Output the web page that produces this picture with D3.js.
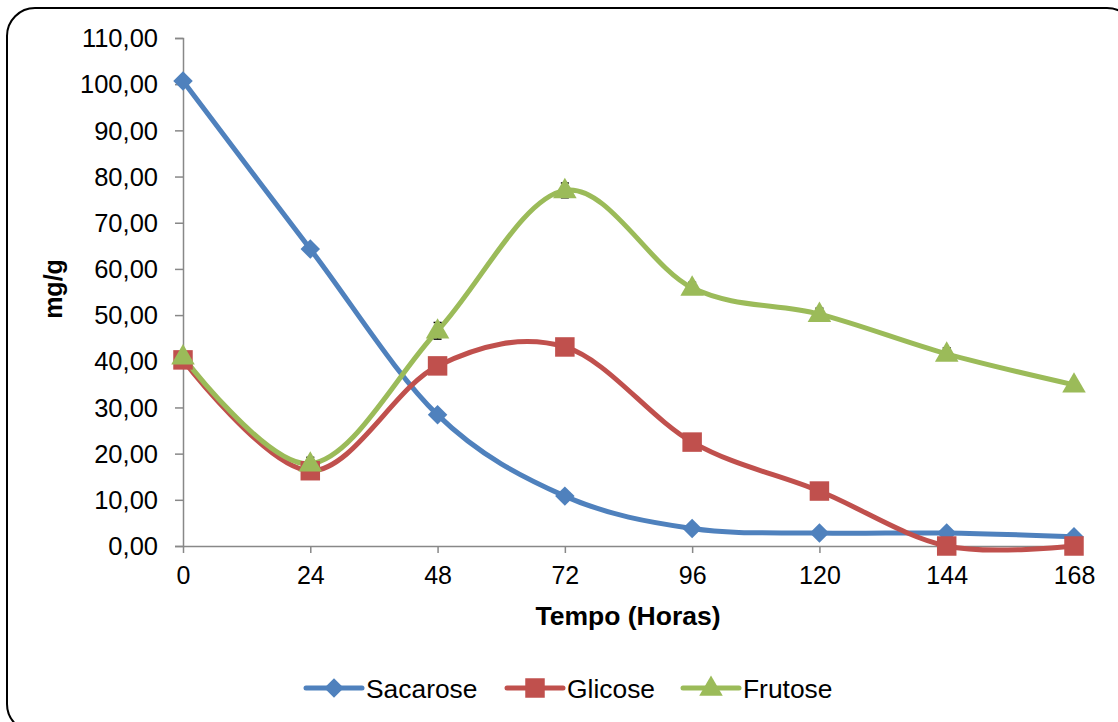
<!DOCTYPE html>
<html>
<head>
<meta charset="utf-8">
<script src="https://cdn.jsdelivr.net/npm/d3@7"></script>
<style>
  html, body { margin: 0; padding: 0; background: #fff; overflow: hidden; }
  svg { display: block; font-family: "Liberation Sans", Arial, sans-serif; }
</style>
</head>
<body>
<div id="chart"></div>
<script>
/* ── data ─────────────────────────────────────────────────── */
const hours    = [0, 24, 48, 72, 96, 120, 144, 168];
const sacarose = [100.7, 64.3, 28.4, 10.8, 3.8, 2.8, 2.8, 2.0];
const glicose  = [40.3, 16.3, 39.0, 43.1, 22.5, 11.9, 0.0, 0.0];
const frutose  = [41.0, 17.8, 46.6, 77.0, 55.9, 50.2, 41.6, 34.9];
const errSacarose = [0.4, 0.6, 0.8, 0.4, 0.3, 0.2, 0.2, 0.2];
const errGlicose  = [0.5, 0.6, 0.5, 0.4, 0.4, 0.3, 0.0, 0.0];
const errFrutose  = [0.8, 1.4, 1.8, 1.6, 1.2, 1.3, 1.3, 0.5];
const yTicks   = [0, 10, 20, 30, 40, 50, 60, 70, 80, 90, 100, 110];
const seriesNames = ['Sacarose', 'Glicose', 'Frutose'];

const series = [
  { name: seriesNames[0], values: sacarose, err: errSacarose, color: '#4F81BD', shape: 'diamond' },
  { name: seriesNames[1], values: glicose,  err: errGlicose,  color: '#C0504D', shape: 'square' },
  { name: seriesNames[2], values: frutose,  err: errFrutose,  color: '#9BBB59', shape: 'triangle' },
];

/* ── layout ───────────────────────────────────────────────── */
const W = 1118, H = 722;
const x0 = 183, x1 = 1074, yTop = 38, yBot = 546;

const svg = d3.select('#chart').append('svg').attr('width', W).attr('height', H);

svg.append('rect')
  .attr('x', 7).attr('y', 8).attr('width', 1128).attr('height', 724)
  .attr('rx', 28).attr('ry', 28)
  .attr('fill', '#fff').attr('stroke', '#000').attr('stroke-width', 2);

const x = d3.scaleLinear().domain([0, 168]).range([x0, x1]);
const y = d3.scaleLinear().domain([0, 110]).range([yBot, yTop]);

const fmt = v => d3.format('.2f')(v).replace('.', ',');

// y axis
const yAxis = svg.append('g').attr('transform', `translate(${x0},0)`)
  .call(d3.axisLeft(y).tickValues(yTicks).tickSize(8).tickPadding(17).tickFormat(fmt));
yAxis.select('.domain').attr('stroke', '#888').attr('stroke-width', 1.5);
yAxis.selectAll('.tick line').attr('stroke', '#888').attr('stroke-width', 1.5);
yAxis.selectAll('.tick text').attr('font-size', 25.5).attr('fill', '#000')
  .attr('font-family', '"Liberation Sans", Arial, sans-serif').attr('dy', '0.34em');

// x axis
const xAxis = svg.append('g').attr('transform', `translate(0,${yBot})`)
  .call(d3.axisBottom(x).tickValues(hours).tickSize(7).tickPadding(13).tickSizeOuter(0));
xAxis.select('.domain').attr('stroke', '#888').attr('stroke-width', 1.5);
xAxis.selectAll('.tick line').attr('stroke', '#888').attr('stroke-width', 1.5);
xAxis.selectAll('.tick text').attr('font-size', 25).attr('fill', '#000')
  .attr('font-family', '"Liberation Sans", Arial, sans-serif');

// axis titles
svg.append('text')
  .attr('x', 628).attr('y', 625).attr('text-anchor', 'middle')
  .attr('font-size', 26.5).attr('font-weight', 'bold').text('Tempo (Horas)');

svg.append('text')
  .attr('transform', 'translate(62,289) rotate(-90)')
  .attr('text-anchor', 'middle')
  .attr('font-size', 25).attr('font-weight', 'bold').text('mg/g');

/* ── series ───────────────────────────────────────────────── */
const line = d3.line()
  .x((d, i) => x(hours[i]))
  .y(d => y(d))
  .curve(d3.curveCardinal.tension(0));

const symbolOf = {
  diamond: d3.symbol().type(d3.symbolSquare).size(190),
  square: d3.symbol().type(d3.symbolSquare).size(380),
  triangle: d3.symbol().type(d3.symbolTriangle).size(240),
};

function marker(g, s, cx, cy) {
  const p = g.append('path')
    .attr('d', symbolOf[s.shape]())
    .attr('fill', s.color);
  if (s.shape === 'diamond') p.attr('transform', `translate(${cx},${cy}) rotate(45)`);
  else if (s.shape === 'triangle') p.attr('transform', `translate(${cx},${cy + 1})`);
  else p.attr('transform', `translate(${cx},${cy})`);
}

const plot = svg.append('g');
series.forEach(s => {
  plot.append('path')
    .attr('d', line(s.values))
    .attr('fill', 'none').attr('stroke', s.color)
    .attr('stroke-width', 5).attr('stroke-linecap', 'round');
});

// error bars (tiny, mostly hidden behind markers)
series.forEach(s => {
  s.values.forEach((v, i) => {
    if (!s.err[i]) return;
    const cx = x(hours[i]);
    const ya = y(v + s.err[i]), yb = y(v - s.err[i]);
    plot.append('line').attr('x1', cx).attr('x2', cx).attr('y1', ya).attr('y2', yb)
      .attr('stroke', '#000').attr('stroke-width', 1.5);
    [ya, yb].forEach(yy => plot.append('line')
      .attr('x1', cx - 4).attr('x2', cx + 4).attr('y1', yy).attr('y2', yy)
      .attr('stroke', '#000').attr('stroke-width', 1.5));
  });
});

series.forEach(s => {
  s.values.forEach((v, i) => marker(plot, s, x(hours[i]), y(v)));
});

/* ── legend ───────────────────────────────────────────────── */
const legendX = [306, 507, 683];
series.forEach((s, i) => {
  const lg = svg.append('g').attr('transform', `translate(${legendX[i]},688)`);
  lg.append('line').attr('x1', 0).attr('x2', 56).attr('y1', 0).attr('y2', 0)
    .attr('stroke', s.color).attr('stroke-width', 5).attr('stroke-linecap', 'round');
  marker(lg, s, 28, 0);
  lg.append('text').attr('x', 60).attr('y', 9.5)
    .attr('font-size', 26.4).attr('fill', '#000').text(s.name);
});
</script>
</body>
</html>
